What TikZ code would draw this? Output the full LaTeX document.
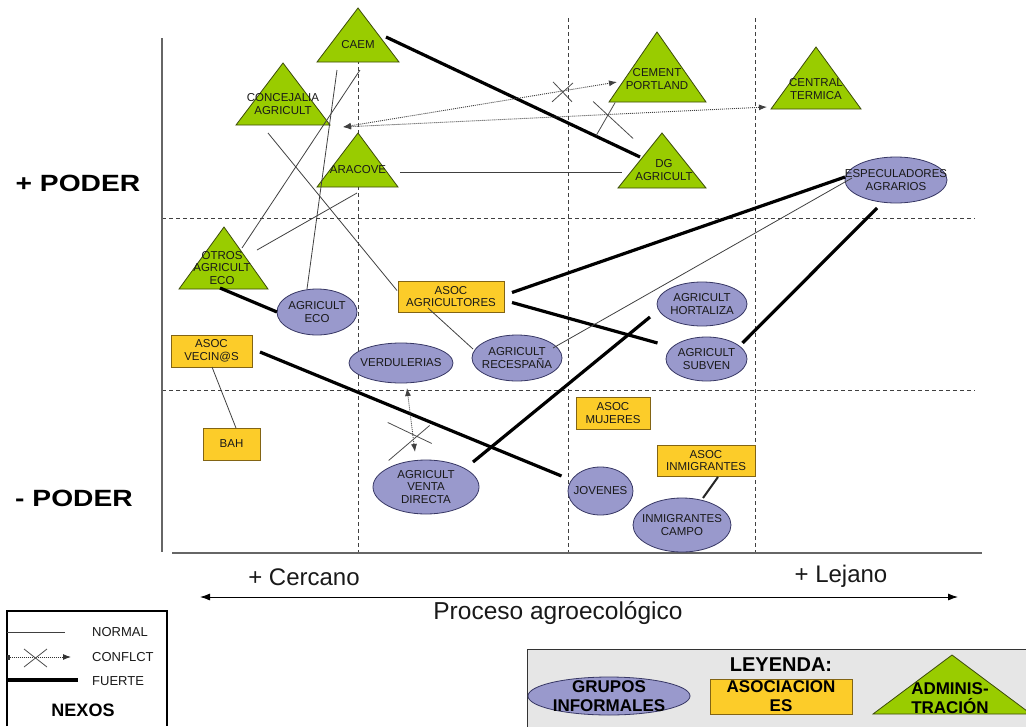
\documentclass[tikz,border=0pt]{standalone}
\usepackage{fontspec}
\setmainfont{Liberation Sans}
\usetikzlibrary{calc,arrows.meta,shapes.geometric}

\definecolor{admgreen}{RGB}{153,204,0}
\definecolor{admline}{RGB}{60,75,10}
\definecolor{grpblue}{RGB}{153,153,204}
\definecolor{grpline}{RGB}{55,55,100}
\definecolor{asocyel}{RGB}{252,204,41}
\definecolor{asocline}{RGB}{130,100,20}
\definecolor{leggray}{RGB}{230,230,230}

\begin{document}
\begin{tikzpicture}[x=1pt,y=-1pt,
  every node/.style={inner sep=0pt, text=black!90},
  ntxt/.style={font=\fontsize{11.5}{12.8}\selectfont, align=center},
  admin/.style={fill=admgreen, draw=admline, line width=0.8pt, line join=miter},
  grupo/.style={ellipse, fill=grpblue, draw=grpline, line width=0.8pt},
  asoc/.style={rectangle, fill=asocyel, draw=asocline, line width=0.8pt, ntxt},
  grid/.style={dash pattern=on 4pt off 3pt, line width=0.9pt, draw=black!75},
  axis/.style={line width=1.4pt, draw=black!60},
  normal/.style={line width=0.8pt, draw=black!75},
  fuerte/.style={line width=3.2pt, draw=black},
  medio/.style={line width=2pt, draw=black!85},
  conflicto/.style={dash pattern=on 1pt off 1pt, line width=0.9pt, draw=black!75,
    {Latex[length=8pt,width=6pt]}-{Latex[length=8pt,width=6pt]}},
  crux/.style={line width=0.8pt, draw=black!70},
  bigtxt/.style={font=\fontsize{24}{28}\selectfont},
  legtxt/.style={font=\fontsize{13}{14}\selectfont, anchor=west},
  legbold/.style={font=\bfseries\fontsize{17}{19}\selectfont, align=center, text=black},
]
\useasboundingbox (0,0) rectangle (1026,726);

% ---- quadrant grid and axes ----
\foreach \gx in {358,568,755} \draw[grid] (\gx,18) -- (\gx,556);
\foreach \gy in {218,390} \draw[grid] (162,\gy) -- (975,\gy);
\draw[axis] (162,38) -- (162,552);
\draw[axis] (172,553) -- (982,553);

\node[font=\bfseries\fontsize{23.5}{28}\selectfont, text=black] (masp) at (78,183) {\scalebox{1.2}[1]{+ PODER}};
\node[font=\bfseries\fontsize{23.5}{28}\selectfont, text=black] (menosp) at (74,498) {\scalebox{1.2}[1]{- PODER}};
\node[bigtxt] (cerca) at (304,577) {+ Cercano};
\node[bigtxt] (lejos) at (841,576) {+ Lejano};
\coordinate (ejeizq) at (200,597);
\coordinate (ejeder) at (958,597);
\draw[line width=0.9pt, {Latex[length=10pt,width=7pt]}-{Latex[length=10pt,width=7pt]}] (ejeizq) -- (ejeder);
\node[font=\fontsize{24.5}{28}\selectfont] (proceso) at (558,613) {Proceso agroecológico};

% ---- administration (triangles) ----
\filldraw[admin] (358,8) -- (399,62) -- (317,62) -- cycle;
\node[ntxt] (caem) at (358,45) {CAEM};
\filldraw[admin] (283,63) -- (330,125) -- (236,125) -- cycle;
\node[ntxt] (conc) at (283,104) {CONCEJALIA\\AGRICULT};
\filldraw[admin] (358,133) -- (398,187) -- (317,187) -- cycle;
\node[ntxt] (aracove) at (358,170) {ARACOVE};
\filldraw[admin] (657,32) -- (706,102) -- (609,102) -- cycle;
\node[ntxt] (cement) at (657,79) {CEMENT\\PORTLAND};
\filldraw[admin] (816,47) -- (861,109) -- (771,109) -- cycle;
\node[ntxt] (central) at (816,89) {CENTRAL\\TERMICA};
\filldraw[admin] (662,133) -- (706,188) -- (618,188) -- cycle;
\node[ntxt] (dg) at (664,170) {DG\\AGRICULT};
\filldraw[admin] (224,227) -- (268,289) -- (179,289) -- cycle;
\node[ntxt] (otros) at (222,268) {OTROS\\AGRICULT\\ECO};

% ---- informal groups (ellipses) ----
\node[grupo, minimum width=102, minimum height=46, label={[ntxt]center:{ESPECULADORES\\AGRARIOS}}] (espec) at (896,180) {};
\node[grupo, minimum width=80, minimum height=46, label={[ntxt]center:{AGRICULT\\ECO}}] (agreco) at (317,312) {};
\node[grupo, minimum width=104, minimum height=40, label={[ntxt]center:{VERDULERIAS}}] (verd) at (401,363) {};
\node[grupo, minimum width=90, minimum height=46, label={[ntxt]center:{AGRICULT\\RECESPAÑA}}] (recesp) at (517,358) {};
\node[grupo, minimum width=90, minimum height=44, label={[ntxt]center:{AGRICULT\\HORTALIZA}}] (hort) at (702,304) {};
\node[grupo, minimum width=81, minimum height=44, label={[ntxt]center:{AGRICULT\\SUBVEN}}] (subven) at (706.5,359) {};
\node[grupo, minimum width=106, minimum height=54, label={[ntxt]center:{AGRICULT\\VENTA\\DIRECTA}}] (venta) at (426,487) {};
\node[grupo, minimum width=65, minimum height=48, label={[ntxt]center:{JOVENES}}] (jovenes) at (600.5,491) {};
\node[grupo, minimum width=98, minimum height=54, label={[ntxt]center:{INMIGRANTES\\CAMPO}}] (inmcampo) at (682,525) {};

% ---- associations (boxes) ----
\node[asoc, minimum width=106, minimum height=31] (asocagr) at (451,296.5) {ASOC\\AGRICULTORES};
\node[asoc, minimum width=81, minimum height=32] (vecinos) at (211.5,351) {ASOC\\VECIN@S};
\node[asoc, minimum width=57, minimum height=32] (bah) at (231.5,444) {BAH};
\node[asoc, minimum width=74, minimum height=32] (asocmuj) at (613,413) {ASOC\\MUJERES};
\node[asoc, minimum width=98, minimum height=31] (asocinm) at (706,460.5) {ASOC\\INMIGRANTES};

% ---- strong links ----
\draw[fuerte] ($(caem)+(28,-8)$) -- ($(dg)+(-24,-13)$);
\draw[fuerte] ($(otros)+(-2,20)$) -- ($(agreco)+(-40,0)$);
\draw[fuerte] ($(vecinos)+(48.5,1)$) -- ($(jovenes)+(-39,-15)$);
\draw[fuerte] ($(asocagr)+(61,-4)$) -- ($(espec)+(-51,-3)$);
\draw[fuerte] ($(asocagr)+(61,6)$) -- ($(subven)+(-49,-16)$);
\draw[fuerte] ($(espec)+(-19,28)$) -- ($(subven)+(36,-16)$);
\draw[fuerte] ($(venta)+(47,-25)$) -- ($(hort)+(-52,13)$);
\draw[medio] ($(asocinm)+(12,16.5)$) -- ($(inmcampo)+(21,-27)$);

% ---- normal links ----
\draw[normal] ($(caem)+(-21,25)$) -- ($(agreco)+(-10,-23)$);
\draw[normal] ($(caem)+(2,25)$) -- ($(otros)+(20,-20)$);
\draw[normal] ($(conc)+(-15,29)$) -- ($(asocagr)+(-54,-6)$);
\draw[normal] ($(aracove)+(-1,23)$) -- ($(otros)+(35,-18)$);
\draw[normal] ($(aracove)+(42,2)$) -- ($(dg)+(-42,2)$);
\draw[normal] ($(vecinos)+(0.5,16)$) -- ($(bah)+(4.5,-16)$);
\draw[normal] ($(asocagr)+(-23,11.5)$) -- ($(recesp)+(-44,-9)$);
\draw[normal] ($(recesp)+(36,-10)$) -- ($(espec)+(-44,-2)$);

% ---- conflict links ----
\coordinate (kc) at ($(conc)+(60,23)$);
\coordinate (kcem) at ($(cement)+(-40,3)$);
\coordinate (kcen) at ($(central)+(-49,18)$);
\draw[conflicto] (kc) -- (kcem);
\draw[conflicto] (kc) -- (kcen);
\coordinate (x1) at ($(kc)!0.803!(kcem)$);
\draw[crux] ($(x1)+(-11,11)$) -- ($(x1)+(10,-8)$);
\draw[crux] ($(x1)+(-10,-9)$) -- ($(x1)+(9,11)$);
\coordinate (x2) at ($(kc)!0.623!(kcen)$);
\draw[crux] ($(x2)+(-11,21)$) -- ($(x2)+(8,-12)$);
\draw[crux] ($(x2)+(-14,-13)$) -- ($(x2)+(26,24)$);

\coordinate (kv) at ($(verd)+(6,25)$);
\coordinate (kd) at ($(venta)+(-11,-35)$);
\draw[conflicto] (kv) -- (kd);
\coordinate (x3) at ($(kv)!0.71!(kd)$);
\draw[crux] ($(x3)+(-25,-11)$) -- ($(x3)+(19,10)$);
\draw[crux] ($(x3)+(-24,27)$) -- ($(x3)+(17,-8)$);

% ---- link legend ----
\draw[line width=2.6pt] (7,726) -- (7,611) -- (167,611) -- (167,726);
\coordinate (ln0) at (7,632);  \coordinate (ln1) at (65,632);
\draw[normal] (ln0) -- (ln1);
\coordinate (lc0) at (7,657);  \coordinate (lc1) at (71,657);
\draw[dash pattern=on 1pt off 1pt, line width=0.9pt, draw=black!80,
  {Square[length=3pt,width=5pt]}-{Latex[length=8pt,width=6pt]}] (lc0) -- (lc1);
\draw[crux] (24,649) -- (47,667);
\draw[crux] (24,667) -- (47,649);
\coordinate (lf0) at (8,680);  \coordinate (lf1) at (78,680);
\draw[line width=3.5pt] (lf0) -- (lf1);
\node[legtxt] (tnormal) at (92,632) {NORMAL};
\node[legtxt] (tconf) at (92,657) {CONFLCT};
\node[legtxt] (tfuerte) at (92,681) {FUERTE};
\node[font=\bfseries\fontsize{18}{20}\selectfont, text=black] (nexos) at (83,710) {NEXOS};

% ---- shape legend ----
\filldraw[fill=leggray, draw=black!80, line width=0.9pt] (527,649) rectangle (1040,740);
\node[font=\bfseries\fontsize{20}{22}\selectfont, text=black] (leyenda) at (781,665) {LEYENDA:};
\node[grupo, minimum width=162, minimum height=38, label={[legbold]center:{GRUPOS\\INFORMALES}}] (lgrupo) at (609,696) {};
\node[asoc, legbold, minimum width=142, minimum height=35] (lasoc) at (781,696.5) {ASOCIACION\\ES};
\filldraw[admin] (952,655) -- (1031,714) -- (873,714) -- cycle;
\node[legbold] (ladmin) at (950,698) {ADMINIS-\\TRACIÓN};
\end{tikzpicture}
\end{document}
